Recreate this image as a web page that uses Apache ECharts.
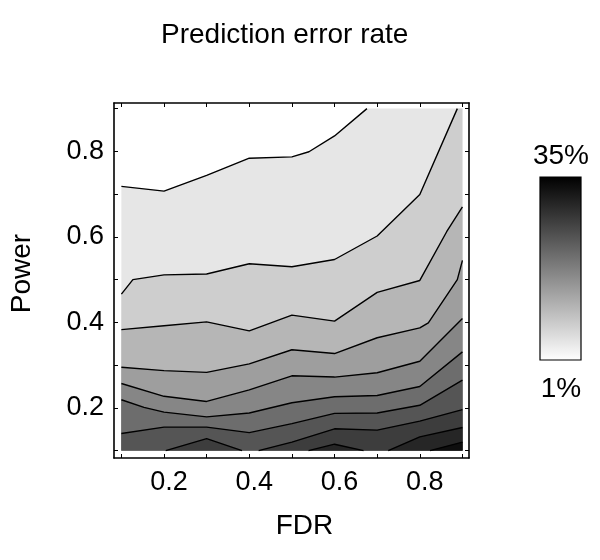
<!DOCTYPE html>
<html>
<head>
<meta charset="utf-8">
<script src="https://cdn.jsdelivr.net/npm/echarts@6/dist/echarts.min.js"></script>
<style>
    html, body { margin: 0; padding: 0; background: #fff; }
    #chart { width: 600px; height: 560px; }
</style>
</head>
<body>
<div id="chart"></div>
<script>
    // tick labels / text
    const titleText = 'Prediction error rate'
    const xName = 'FDR'
    const yName = 'Power'
    const tickValues = [0.1, 0.2, 0.3, 0.4, 0.5, 0.6, 0.7, 0.8, 0.9]
    const labelValues = [0.2, 0.4, 0.6, 0.8]
    const scaleLabels = ['35%', '1%']

    // data extent of the contour plot (FDR x Power)
    const xRange = [0.1, 0.9]
    const yRange = [0.1, 0.9]

    // contour lines, [FDR, Power], from light (top) to dark (bottom)
    const line1 = [[0.1, 0.718], [0.2, 0.707], [0.3, 0.744], [0.4, 0.784], [0.5, 0.787], [0.54, 0.799], [0.6, 0.836], [0.676, 0.9]]
    const line2 = [[0.1, 0.466], [0.127, 0.5], [0.2, 0.511], [0.3, 0.513], [0.4, 0.537], [0.5, 0.53], [0.6, 0.547], [0.7, 0.602], [0.8, 0.699], [0.888, 0.9]]
    const line3 = [[0.1, 0.383], [0.2, 0.392], [0.3, 0.401], [0.4, 0.38], [0.5, 0.417], [0.6, 0.403], [0.7, 0.47], [0.8, 0.498], [0.863, 0.612], [0.9, 0.67]]
    const line4 = [[0.1, 0.295], [0.2, 0.287], [0.3, 0.283], [0.4, 0.303], [0.5, 0.336], [0.6, 0.327], [0.7, 0.364], [0.8, 0.387], [0.82, 0.399], [0.888, 0.5], [0.9, 0.545]]
    const line5 = [[0.1, 0.257], [0.2, 0.227], [0.3, 0.215], [0.4, 0.242], [0.5, 0.275], [0.6, 0.272], [0.7, 0.282], [0.8, 0.309], [0.9, 0.409]]
    const line6 = [[0.1, 0.219], [0.153, 0.201], [0.2, 0.19], [0.3, 0.179], [0.4, 0.188], [0.5, 0.212], [0.6, 0.226], [0.7, 0.229], [0.8, 0.25], [0.9, 0.331]]
    const line7 = [[0.1, 0.14], [0.2, 0.155], [0.3, 0.155], [0.4, 0.142], [0.5, 0.163], [0.6, 0.187], [0.7, 0.188], [0.8, 0.206], [0.9, 0.265]]
    const line8a = [[0.204, 0.1], [0.3, 0.128], [0.383, 0.1]]
    const line8b = [[0.422, 0.1], [0.5, 0.12], [0.6, 0.151], [0.7, 0.148], [0.8, 0.169], [0.9, 0.196]]
    const line9a = [[0.539, 0.1], [0.6, 0.115], [0.668, 0.1]]
    const line9b = [[0.726, 0.1], [0.8, 0.132], [0.9, 0.154]]
    const line10 = [[0.824, 0.1], [0.9, 0.12]]

    const contourLevels = [
        [line1], [line2], [line3], [line4], [line5],
        [line6], [line7], [line8a, line8b], [line9a, line9b], [line10]
    ]

    // gray of the band below each contour
    const bandGray = ['#e6e6e6', '#cecece', '#b6b6b6', '#9e9e9e', '#868686', '#6d6d6d', '#555555', '#3d3d3d', '#262626', '#0e0e0e']

    const font = 'Liberation Sans, Arial, sans-serif'

    // close a contour piece along the plot edge so it covers the side below / right of it
    function closeBelow(pts) {
        let out = pts.slice()
        let first = pts[0]
        let last = pts[pts.length - 1]
        if (last[1] >= yRange[1]) out.push([xRange[1], yRange[1]])
        if (last[1] > yRange[0]) out.push([xRange[1], yRange[0]])
        if (first[0] <= xRange[0] && first[1] > yRange[0]) out.push([xRange[0], yRange[0]])
        return out
    }

    let fillPieces = []
    contourLevels.forEach((pieces, k) => {
        pieces.forEach(p => {
            fillPieces.push({ pts: closeBelow(p), color: bandGray[k] })
        })
    })

    let lineSeries = []
    contourLevels.forEach(pieces => {
        pieces.forEach(p => {
            lineSeries.push({
                type: 'line',
                data: p,
                symbol: 'none',
                silent: true,
                z: 5,
                lineStyle: { color: '#000', width: 1.4 }
            })
        })
    })

    const axisMin = 0.0827
    const xAxisMax = 0.9154
    const yAxisMax = 0.9131

    function frameAxis(extra) {
        return Object.assign({
            type: 'value',
            gridIndex: 0,
            min: axisMin,
            splitLine: { show: false },
            axisLine: { show: true, onZero: false, lineStyle: { color: '#000', width: 1.6 } },
            axisTick: { show: true, inside: true, length: 4, customValues: tickValues, lineStyle: { color: '#000', width: 1 } },
            axisLabel: { show: false }
        }, extra)
    }

    let myChart = echarts.init(document.getElementById('chart'), null, { renderer: 'canvas' })

    let option = {
        animation: false,
        backgroundColor: '#fff',
        title: {
            text: titleText,
            left: 161,
            top: 21,
            padding: 0,
            textStyle: { fontFamily: font, fontSize: 28, fontWeight: 'normal', color: '#000' }
        },
        grid: { left: 113, right: 131, top: 103, bottom: 102 },
        xAxis: [
            frameAxis({
                position: 'bottom',
                max: xAxisMax,
                name: xName,
                nameLocation: 'middle',
                nameGap: 54,
                nameTextStyle: { fontFamily: font, fontSize: 28, color: '#000', padding: [0, 0, 0, 26] },
                axisLabel: {
                    show: true,
                    customValues: labelValues,
                    margin: 11,
                    fontFamily: font,
                    fontSize: 27,
                    color: '#000',
                    padding: [0, 0, 0, 10],
                    formatter: v => v.toFixed(1)
                }
            }),
            frameAxis({ position: 'top', max: xAxisMax })
        ],
        yAxis: [
            frameAxis({
                position: 'left',
                max: yAxisMax,
                name: yName,
                nameLocation: 'middle',
                nameGap: 78,
                nameTextStyle: { fontFamily: font, fontSize: 28, color: '#000', padding: [0, 0, 0, 14] },
                axisLabel: {
                    show: true,
                    customValues: labelValues,
                    margin: 10,
                    fontFamily: font,
                    fontSize: 27,
                    color: '#000',
                    formatter: v => v.toFixed(1)
                }
            }),
            frameAxis({ position: 'right', max: yAxisMax })
        ],
        series: [{
            type: 'custom',
            silent: true,
            z: 2,
            data: fillPieces.map(p => p.pts[0]),
            renderItem: function (params, api) {
                let piece = fillPieces[params.dataIndex]
                return {
                    type: 'polygon',
                    shape: { points: piece.pts.map(p => api.coord(p)) },
                    style: { fill: piece.color, stroke: null }
                }
            }
        }].concat(lineSeries),
        graphic: [
            {
                type: 'rect',
                shape: { x: 540, y: 177, width: 41, height: 183 },
                style: {
                    fill: new echarts.graphic.LinearGradient(0, 0, 0, 1, [
                        { offset: 0, color: '#000' },
                        { offset: 1, color: '#fff' }
                    ]),
                    stroke: '#000',
                    lineWidth: 1.2
                }
            },
            {
                type: 'text',
                style: { text: scaleLabels[0], x: 561, y: 156, align: 'center', verticalAlign: 'middle', font: '28px ' + font, fill: '#000' }
            },
            {
                type: 'text',
                style: { text: scaleLabels[1], x: 561, y: 389, align: 'center', verticalAlign: 'middle', font: '28px ' + font, fill: '#000' }
            }
        ]
    }

    myChart.setOption(option)
</script>
</body>
</html>
